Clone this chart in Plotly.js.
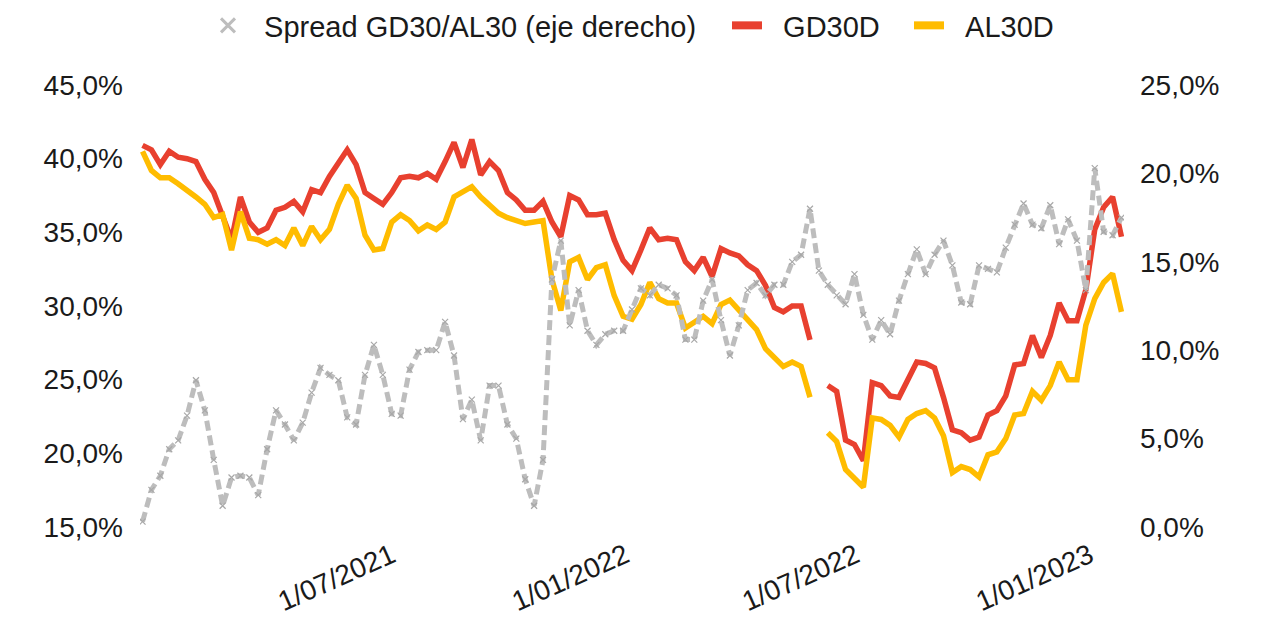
<!DOCTYPE html>
<html>
<head>
<meta charset="utf-8">
<script src="https://cdn.plot.ly/plotly-3.0.1.min.js"></script>
<style>html,body{margin:0;padding:0;background:#fff;}#chart{width:1261px;height:630px;}</style>
</head>
<body>
<div id="chart"></div>
<script>
// Weekly observation dates
const dates = [
"2020-12-17","2020-12-24","2020-12-31","2021-01-07","2021-01-14","2021-01-21","2021-01-28","2021-02-04","2021-02-11","2021-02-18",
"2021-02-25","2021-03-04","2021-03-11","2021-03-18","2021-03-25","2021-04-01","2021-04-08","2021-04-15","2021-04-22","2021-04-29",
"2021-05-06","2021-05-13","2021-05-20","2021-05-27","2021-06-03","2021-06-10","2021-06-17","2021-06-24","2021-07-01","2021-07-08",
"2021-07-15","2021-07-22","2021-07-29","2021-08-05","2021-08-12","2021-08-19","2021-08-26","2021-09-02","2021-09-09","2021-09-16",
"2021-09-23","2021-09-30","2021-10-07","2021-10-14","2021-10-21","2021-10-28","2021-11-04","2021-11-11","2021-11-18","2021-11-25",
"2021-12-02","2021-12-09","2021-12-16","2021-12-23","2021-12-30","2022-01-06","2022-01-13","2022-01-20","2022-01-27","2022-02-03",
"2022-02-10","2022-02-17","2022-02-24","2022-03-03","2022-03-10","2022-03-17","2022-03-24","2022-03-31","2022-04-07","2022-04-14",
"2022-04-21","2022-04-28","2022-05-05","2022-05-12","2022-05-19","2022-05-26","2022-06-02","2022-06-09","2022-06-16","2022-06-23",
"2022-06-30","2022-07-07","2022-07-14","2022-07-21","2022-07-28","2022-08-04","2022-08-11","2022-08-18","2022-08-25","2022-09-01",
"2022-09-08","2022-09-15","2022-09-22","2022-09-29","2022-10-06","2022-10-13","2022-10-20","2022-10-27","2022-11-03","2022-11-10",
"2022-11-17","2022-11-24","2022-12-01","2022-12-08","2022-12-15","2022-12-22","2022-12-29","2023-01-05","2023-01-12","2023-01-19",
"2023-01-26"
];

// GD30D yield (%), left axis
const gd30d = [
40.9,40.6,39.6,40.5,40.1,40.0,39.8,38.6,37.7,36.0,
34.5,37.4,35.7,35.0,35.3,36.5,36.7,37.1,36.4,37.9,
37.7,38.8,39.7,40.6,39.6,37.7,37.3,36.9,37.7,38.7,
38.8,38.7,39.0,38.6,39.8,41.1,39.4,41.3,38.9,39.8,
39.2,37.7,37.2,36.5,36.5,37.1,35.7,34.7,37.5,37.2,
36.2,36.2,36.3,34.5,33.1,32.4,33.8,35.3,34.5,34.6,
34.5,33.0,32.4,33.3,32.0,33.9,33.6,33.4,32.8,32.4,
31.4,29.9,29.6,30.0,30.0,27.7,null,24.6,24.2,20.9,
20.6,19.5,24.8,24.6,23.9,23.8,25.1,26.2,26.1,25.8,
23.8,21.6,21.4,20.9,21.1,22.6,22.9,23.9,26.0,26.1,
28.0,26.5,28.0,30.2,29.0,29.0,31.1,35.2,36.7,37.4,
34.7
];

// AL30D yield (%), left axis
const al30d = [
40.5,39.2,38.7,38.7,38.3,37.9,37.4,36.9,36.0,36.2,
33.8,36.4,34.6,34.5,34.2,34.5,34.1,35.3,34.1,35.4,
34.5,35.2,36.9,38.2,37.3,34.8,33.8,33.9,35.7,36.2,
35.8,35.1,35.5,35.2,35.7,37.4,37.7,38.1,37.4,36.9,
36.3,36.0,35.8,35.6,35.7,35.8,31.8,29.7,33.0,33.3,
31.8,32.6,32.8,30.7,29.3,29.1,30.1,31.6,30.5,30.2,
30.2,28.5,28.9,29.3,28.8,30.1,30.4,29.7,29.0,28.4,
27.1,26.5,25.9,26.2,25.9,23.8,null,21.4,20.8,18.9,
18.3,17.7,22.4,22.3,21.9,21.1,22.3,22.7,22.9,22.4,
21.2,18.7,19.1,18.9,18.4,19.9,20.1,21.0,22.6,22.7,
24.2,23.6,24.6,26.2,25.0,25.0,28.7,30.5,31.6,32.2,
29.6
];

// Spread GD30/AL30 (%), right axis
const spread = [
0.3,2.1,2.9,4.4,4.9,6.3,8.3,6.6,3.8,1.2,
2.8,2.9,2.8,1.8,4.4,6.6,5.8,4.9,5.9,7.6,
9.0,8.6,8.3,6.2,5.8,8.6,10.3,8.6,6.4,6.3,
8.9,9.9,10.0,10.0,11.6,9.7,6.1,7.2,4.9,8.0,
8.0,5.8,5.0,2.7,1.2,3.8,14.0,16.2,11.4,13.4,
11.1,10.3,10.9,11.1,11.1,12.3,13.5,13.1,13.7,13.5,
13.1,10.6,10.6,12.8,14.0,11.7,9.7,11.4,13.4,13.8,
13.1,13.7,13.7,15.0,15.4,18.0,14.5,13.7,13.1,12.6,
14.3,12.0,10.6,11.7,10.9,12.8,14.3,15.7,14.3,15.4,
16.2,14.8,12.7,12.6,14.8,14.6,14.4,15.8,17.1,18.3,
17.1,16.9,18.2,16.0,17.4,16.2,13.4,20.3,16.7,16.5,
17.5
];

const leftTicks = [15,20,25,30,35,40,45];
const rightTicks = [0,5,10,15,20,25];
const xTicks = ["2021-07-01","2022-01-01","2022-07-01","2023-01-01"];
const seriesNames = ["Spread GD30/AL30 (eje derecho)", "GD30D", "AL30D"];

const pctLabel = v => v.toFixed(1).replace(".", ",") + "%";
const NB = "\u00a0\u00a0";

const RED = "#E8402F", YEL = "#FFBC00", GRY = "#BDBDBD";

const traces = [
  {x: dates, y: spread, yaxis: "y2", type: "scatter", mode: "lines+markers",
   line: {color: GRY, width: 5, dash: "10px,5px"},
   marker: {symbol: "x-thin", size: 6, line: {color: "#A8A8A8", width: 1.2}},
   showlegend: false, connectgaps: false},
  {x: dates, y: gd30d, type: "scatter", mode: "lines",
   line: {color: RED, width: 5.5}, showlegend: false, connectgaps: false},
  {x: dates, y: al30d, type: "scatter", mode: "lines",
   line: {color: YEL, width: 5.5}, showlegend: false, connectgaps: false},
  // legend entries
  {x: [null], y: [null], type: "scatter", mode: "markers", name: NB + seriesNames[0],
   legendwidth: 474,
   marker: {symbol: "x-thin", size: 14, line: {color: GRY, width: 3}}},
  {x: [null], y: [null], type: "scatter", mode: "lines", name: NB + seriesNames[1],
   legendwidth: 137, line: {color: RED, width: 8}},
  {x: [null], y: [null], type: "scatter", mode: "lines", name: NB + seriesNames[2],
   line: {color: YEL, width: 8}}
];

const FAM = "Liberation Sans, Arial, sans-serif";
const tickFont = {family: FAM, size: 28, color: "#1a1a1a"};
const xFont = {family: FAM, size: 28, color: "#1a1a1a"};
const legFont = {family: FAM, size: 29, color: "#1a1a1a"};

const layout = {
  width: 1261, height: 630,
  paper_bgcolor: "#fff", plot_bgcolor: "#fff",
  font: tickFont,
  margin: {l: 140, r: 137, t: 85, b: 103},
  showlegend: true,
  legend: {orientation: "h", x: 0.0691, xanchor: "left", y: 1.0, yanchor: "top",
           yref: "container", font: legFont, itemwidth: 30, traceorder: "normal"},
  xaxis: {type: "date", range: ["2020-12-15", "2023-01-28"], tickvals: xTicks,
          tickformat: "%-d/%m/%Y", tickangle: -24, showgrid: false, zeroline: false,
          showline: false, ticks: "", tickfont: xFont, ticklabelstandoff: 6},
  yaxis: {range: [15, 45], tickvals: leftTicks, ticktext: leftTicks.map(pctLabel),
          showgrid: false, zeroline: false, showline: false, ticks: "",
          ticklabelstandoff: 16, tickfont: tickFont},
  yaxis2: {range: [0, 25], tickvals: rightTicks, ticktext: rightTicks.map(pctLabel),
           overlaying: "y", side: "right", showgrid: false, zeroline: false,
           showline: false, ticks: "", ticklabelstandoff: 15, tickfont: tickFont}
};

Plotly.newPlot("chart", traces, layout, {displayModeBar: false, staticPlot: true});
</script>
</body>
</html>
